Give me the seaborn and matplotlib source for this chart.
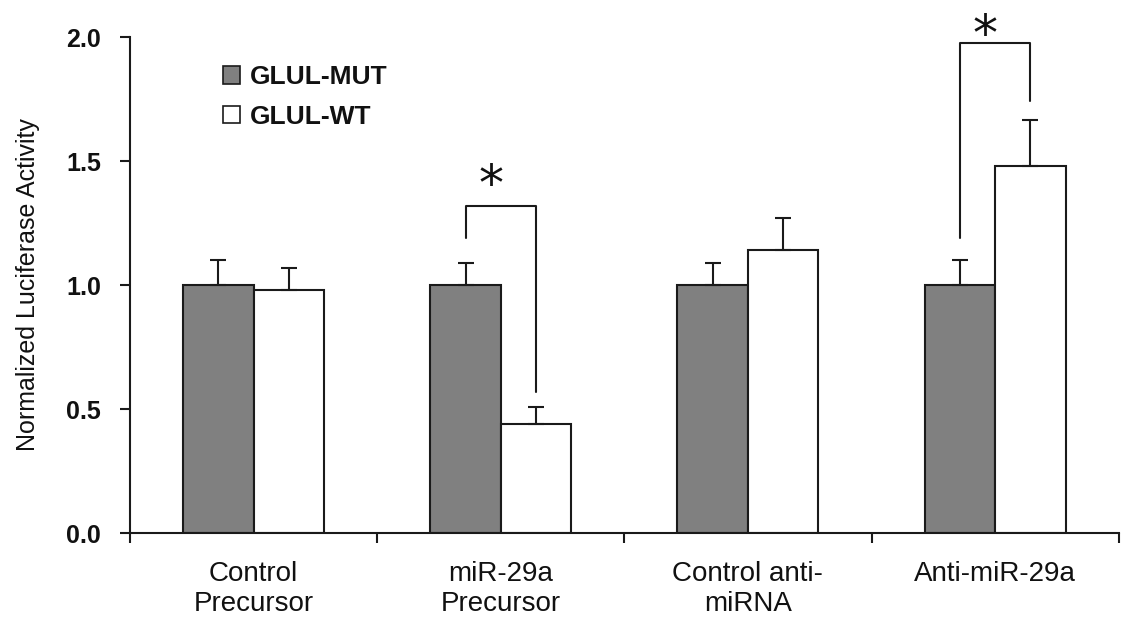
import matplotlib
matplotlib.use("Agg")
import matplotlib.pyplot as plt
import matplotlib.transforms as mtransforms
import seaborn as sns
import pandas as pd
import numpy as np
from matplotlib.ticker import FixedLocator

categories = ["Control\nPrecursor", "miR-29a\nPrecursor", "Control anti-\nmiRNA", "Anti-miR-29a"]
series = ["GLUL-MUT", "GLUL-WT"]
mut_values = [1.00, 1.00, 1.00, 1.00]
wt_values = [0.98, 0.44, 1.14, 1.48]
mut_err = [0.10, 0.09, 0.09, 0.10]
wt_err = [0.09, 0.07, 0.13, 0.185]
y_ticks = [0.0, 0.5, 1.0, 1.5, 2.0]
y_label = "Normalized Luciferase Activity"
# significance brackets: category index, left bottom, right bottom, top, star height
sig_index = [1, 3]
sig_left_bottom = [1.19, 1.19]
sig_right_bottom = [0.57, 1.74]
sig_top = [1.32, 1.975]
sig_star_y = [1.455, 2.06]

df = pd.DataFrame({
    "category": categories * 2,
    "series": [series[0]] * 4 + [series[1]] * 4,
    "value": mut_values + wt_values,
})

sns.set_theme(style="white")
plt.rcParams["font.family"] = ["Liberation Sans", "DejaVu Sans"]

fig = plt.figure(figsize=(11.3, 6.22), dpi=100)
ax = fig.add_axes([0.115, 0.143, 0.875, 0.7975])

sns.barplot(data=df, x="category", y="value", hue="series", order=categories,
            hue_order=series, palette={"GLUL-MUT": "#808080", "GLUL-WT": "#ffffff"},
            edgecolor="#1a1a1a", linewidth=1.5, width=0.57, errorbar=None, ax=ax,
            legend=True)

# error bars placed on the seaborn bar patches
bars = [p for p in ax.patches if p.get_height() > 0 and p.get_width() < 1]
bars_sorted = sorted(bars, key=lambda p: p.get_x())
vals = []
for i in range(4):
    vals.append((mut_values[i], mut_err[i]))
    vals.append((wt_values[i], wt_err[i]))
centers = []
for p, (v, e) in zip(bars_sorted, vals):
    xc = p.get_x() + p.get_width() / 2
    centers.append(xc)
    ax.errorbar(xc, v, yerr=[[0], [e]], fmt="none", ecolor="#1a1a1a",
                elinewidth=1.5, capsize=5.5, capthick=1.5, zorder=1)

star_fs = 36
star_trans = mtransforms.offset_copy(ax.transData, fig=fig, y=-0.56 * star_fs, units="points")
for idx, lb, rb, top, sy in zip(sig_index, sig_left_bottom, sig_right_bottom, sig_top, sig_star_y):
    xl = centers[2 * idx]
    xr = centers[2 * idx + 1]
    ax.plot([xl, xl, xr, xr], [lb, top, top, rb], color="#1a1a1a", lw=1.5,
            clip_on=False)
    ax.text((xl + xr) / 2 - 0.04, sy, "*", ha="center", va="baseline",
            fontsize=star_fs, color="#111111", family="DejaVu Sans", clip_on=False,
            transform=star_trans)

ax.set_ylim(0, 2.0)
ax.set_xlim(-0.5, 3.5)
ax.set_yticks(y_ticks)
ax.set_yticklabels([f"{t:.1f}" for t in y_ticks], fontsize=18, fontweight="bold")
ax.xaxis.set_minor_locator(FixedLocator([-0.5, 0.5, 1.5, 2.5, 3.5]))
ax.tick_params(axis="x", which="major", length=0, pad=20, labelsize=20)
ax.tick_params(axis="x", which="minor", length=7, width=1.5, direction="out",
               bottom=True, color="#1a1a1a")
ax.tick_params(axis="y", which="major", length=7, width=1.5, direction="out",
               left=True, color="#1a1a1a", pad=14)
for lbl in ax.get_xticklabels():
    lbl.set_linespacing(1.2)
    lbl.set_color("#111111")
for lbl in ax.get_yticklabels():
    lbl.set_color("#111111")
ax.set_xlabel("")
ax.set_ylabel(y_label, fontsize=18, family="Liberation Sans", labelpad=19, color="#111111")
for s in ["top", "right"]:
    ax.spines[s].set_visible(False)
for s in ["left", "bottom"]:
    ax.spines[s].set_color("#1a1a1a")
    ax.spines[s].set_linewidth(1.5)

leg = ax.legend(loc="upper left", bbox_to_anchor=(0.094, 0.943), frameon=False,
                prop={"weight": "bold", "size": 19}, handlelength=0.65,
                handleheight=0.65, handletextpad=0.38, labelspacing=0.58,
                borderpad=0, borderaxespad=0)
for h in leg.legend_handles:
    h.set_edgecolor("#1a1a1a")
    h.set_linewidth(1.2)
for t in leg.get_texts():
    t.set_color("#111111")

fig.savefig("out.png", dpi=100)
